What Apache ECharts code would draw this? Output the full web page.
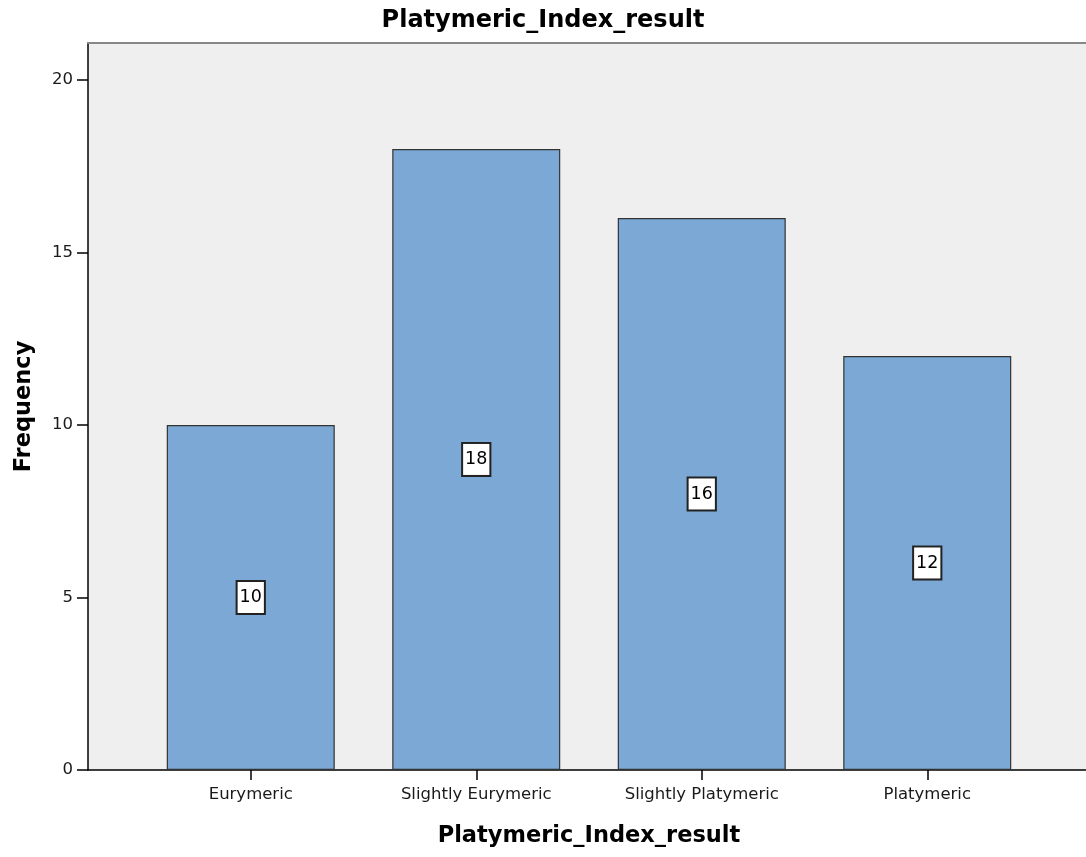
<!DOCTYPE html>
<html>
<head>
<meta charset="utf-8">
<script src="https://cdn.jsdelivr.net/npm/echarts@6/dist/echarts.min.js"></script>
<style>html,body{margin:0;padding:0;background:#fff;}#c{width:1086px;height:857px;}</style>
</head>
<body>
<div id="c"></div>
<script>
const categories = ['Eurymeric', 'Slightly Eurymeric', 'Slightly Platymeric', 'Platymeric'];
const frequencies = [10, 18, 16, 12];
const yTicks = [0, 5, 10, 15, 20];
const titleText = 'Platymeric_Index_result';
const xName = 'Platymeric_Index_result';
const yName = 'Frequency';

const FONT = '"DejaVu Sans", Verdana, sans-serif';
const yMax = 21.07;
const chart = echarts.init(document.getElementById('c'), null, {renderer: 'canvas'});
chart.setOption({
  animation: false,
  backgroundColor: '#ffffff',
  title: {
    text: titleText, left: 'center', top: 4,
    textStyle: {fontFamily: FONT, fontSize: 24, fontWeight: 'bold', color: '#000'}
  },
  grid: [
    {left: 88, right: -4, top: 43, bottom: 87, show: true, backgroundColor: '#efefef', borderWidth: 0},
    {left: 138, width: 902, top: 43, bottom: 87}
  ],
  xAxis: [
    {gridIndex: 0, type: 'value', min: 0, max: 1, position: 'bottom',
     axisLine: {show: true, lineStyle: {color: '#000', width: 1.5}},
     axisTick: {show: false}, axisLabel: {show: false}, splitLine: {show: false}},
    {gridIndex: 0, type: 'value', min: 0, max: 1, position: 'top',
     axisLine: {show: true, lineStyle: {color: '#888', width: 2}},
     axisTick: {show: false}, axisLabel: {show: false}, splitLine: {show: false}},
    {gridIndex: 1, type: 'category', data: categories, position: 'bottom',
     axisLine: {show: false},
     axisTick: {show: true, alignWithLabel: true, length: 10, lineStyle: {color: '#000', width: 1.5}},
     axisLabel: {fontFamily: FONT, fontSize: 16.5, color: '#1a1a1a', margin: 16},
     name: xName, nameLocation: 'middle', nameGap: 55,
     nameTextStyle: {fontFamily: FONT, fontSize: 22.5, fontWeight: 'bold', color: '#000'}}
  ],
  yAxis: [
    {gridIndex: 0, type: 'value', min: 0, max: yMax, interval: 5,
     axisLine: {show: true, lineStyle: {color: '#000', width: 1.5}},
     axisTick: {show: true, length: 11, lineStyle: {color: '#000', width: 1.5},
                customValues: yTicks},
     axisLabel: {fontFamily: FONT, fontSize: 16.5, color: '#1a1a1a', margin: 15, customValues: yTicks},
     splitLine: {show: false},
     name: yName, nameLocation: 'middle', nameGap: 52,
     nameTextStyle: {fontFamily: FONT, fontSize: 22.5, fontWeight: 'bold', color: '#000'}},
    {gridIndex: 1, type: 'value', min: 0, max: yMax, show: false, splitLine: {show: false}}
  ],
  series: [{
    type: 'bar', xAxisIndex: 2, yAxisIndex: 1,
    data: frequencies,
    barCategoryGap: '25.5%',
    itemStyle: {color: '#7ba8d5', borderColor: '#333', borderWidth: 1.2},
    label: {
      show: true, position: 'inside',
      fontFamily: FONT, fontSize: 17.5, color: '#000',
      backgroundColor: '#fff', borderColor: '#222', borderWidth: 2,
      padding: [7, 2, 6, 2]
    }
  }]
});
</script>
</body>
</html>
